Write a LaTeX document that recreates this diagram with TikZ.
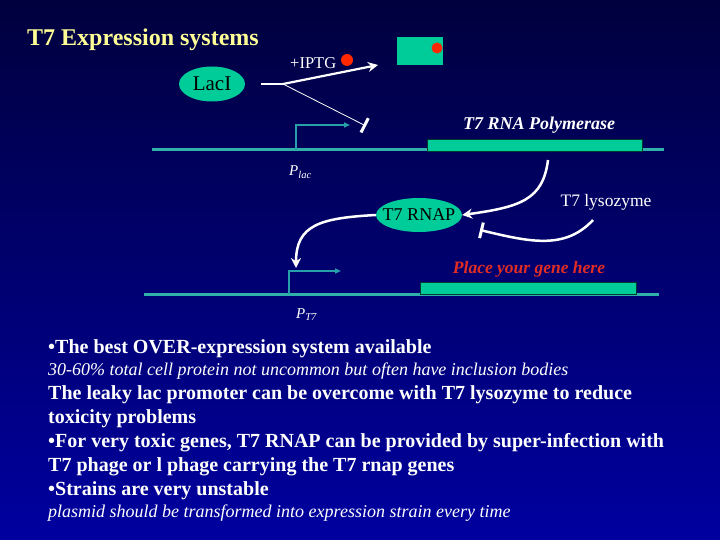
\documentclass[tikz,border=0pt]{standalone}
\usepackage{fontspec}
\setmainfont{Liberation Serif}
\usetikzlibrary{arrows.meta,shapes.geometric}
\definecolor{bgtop}{RGB}{0,0,62}
\definecolor{bgbot}{RGB}{0,0,160}
\definecolor{genegreen}{RGB}{0,204,153}
\definecolor{dnacol}{RGB}{48,176,170}
\definecolor{promcol}{RGB}{40,160,170}
\definecolor{titleyel}{RGB}{255,255,150}
\definecolor{dotred}{RGB}{255,40,0}
\definecolor{genered}{RGB}{225,45,35}
\tikzset{
  blob/.style={ellipse, fill=genegreen, inner sep=0pt, text=black},
  dnaline/.style={draw=dnacol, line width=3pt},
  genebox/.style={draw=black!70!genegreen, fill=genegreen, line width=0.8pt},
  prom/.style={draw=promcol, line width=1.5pt, -{Triangle[length=6pt,width=5pt]}},
  actarrow/.style={draw=white, line width=2.5pt, -{Stealth[length=10pt,width=10pt]}},
  inhib/.style={draw=white, line width=2.5pt, -{Bar[width=16pt,line width=3pt]}},
  reddot/.style={circle, fill=dotred, inner sep=0pt, minimum size=#1},
  wtxt/.style={text=white, inner sep=0pt},
  boldline/.style={text=white, inner sep=0pt, anchor=base west, font=\fontsize{20}{23}\selectfont\bfseries},
  itline/.style={text=white, inner sep=0pt, anchor=base west, font=\fontsize{18}{20}\selectfont\itshape},
}
\begin{document}
\begin{tikzpicture}[x=1pt,y=-1pt]
\shade[top color=bgtop, bottom color=bgbot] (0,0) rectangle (720,540);
\useasboundingbox (0,0) rectangle (720,540);

% title
\node[anchor=base west, inner sep=0pt, text=titleyel, font=\fontsize{24}{27}\selectfont\bfseries] (title) at (27,46) {T7 Expression systems};

% LacI
\node[blob, minimum width=66pt, minimum height=35pt, font=\fontsize{21}{24}\selectfont] (lacI) at (212,84) {LacI};
\coordinate (split) at (283,84);
\coordinate (iptgend) at (378,65);
\coordinate (placblock) at (366,126);
\draw[white, line width=1.2pt] (261,84) -- (split);
\draw[actarrow, line width=2.2pt] (split) -- (iptgend);
\draw[white, line width=0.8pt, -{Bar[width=16pt,line width=3pt]}] (split) -- (placblock);
\node[wtxt, anchor=base west, font=\fontsize{16.5}{19}\selectfont] (iptg) at (290,69) {+IPTG};
\node[reddot=12pt] (dot1) at (347,60) {};

% LacI-IPTG complex
\node[fill=genegreen, minimum width=46pt, minimum height=28pt, inner sep=0pt] (complex) at (420,51) {};
\node[reddot=11pt] (dot2) at (437,48) {};

% first DNA
\node[inner sep=0pt] (dna1l) at (151,150) {};
\node[inner sep=0pt] (dna1r) at (665,150) {};
\draw[dnaline] (dna1l) -- (dna1r);
\node[genebox, minimum width=215pt, minimum height=12pt, inner sep=0pt] (gene1) at (534.5,145) {};
\coordinate (plac0) at (296,150);
\coordinate (plac1) at (296,125);
\coordinate (plac2) at (350,125);
\draw[prom] (plac0) -- (plac1) -- (plac2);
\node[wtxt, anchor=base, font=\fontsize{18}{20}\selectfont\bfseries\itshape] (t7pol) at (539,130) {T7 RNA Polymerase};
\node[wtxt, anchor=base west, font=\fontsize{15}{17}\selectfont\itshape] (plac) at (289,176) {P\textsubscript{lac}};

% T7 RNAP
\node[blob, inner xsep=-6pt, minimum width=86pt, minimum height=34pt, font=\fontsize{18}{20}\selectfont] (rnap) at (419,215) {T7 RNAP};
\coordinate (polout) at (548,160);
\draw[actarrow] (polout) .. controls (543,200) and (520,207) .. (rnap.east);
\node[wtxt, anchor=base, font=\fontsize{17.5}{20}\selectfont] (lyso) at (606,207) {T7 lysozyme};
\coordinate (lysoout) at (593,220);
\coordinate (lysoblock) at (480,230);
\draw[inhib] (lysoout) .. controls (565,250) and (530,242) .. (lysoblock);
\coordinate (pt7target) at (296,268);
\draw[actarrow] (rnap.west) .. controls (320,218) and (296,225) .. (pt7target);

% second DNA
\node[genered, inner sep=0pt, anchor=base, font=\fontsize{17.5}{20}\selectfont\bfseries\itshape] (gene2lbl) at (529,273) {Place your gene here};
\node[inner sep=0pt] (dna2l) at (143,294) {};
\node[inner sep=0pt] (dna2r) at (660,294) {};
\draw[dnaline] (dna2l) -- (dna2r);
\node[genebox, minimum width=216pt, minimum height=12pt, inner sep=0pt] (gene2) at (528,288.5) {};
\coordinate (pt70) at (289,294);
\coordinate (pt72) at (289,271);
\coordinate (pt73) at (341,271);
\draw[prom] (pt70) -- (pt72) -- (pt73);
\node[wtxt, anchor=base west, font=\fontsize{15}{17}\selectfont\itshape] (pt7) at (296,318) {P\textsubscript{T7}};

% bullet text
\node[boldline] (b1) at (48,353) {•The best OVER-expression system available};
\node[itline] (b2) at (48,375) {30-60\% total cell protein not uncommon but often have inclusion bodies};
\node[boldline] (b3) at (48,399) {The leaky lac promoter can be overcome with T7 lysozyme to reduce};
\node[boldline] (b4) at (48,423) {toxicity problems};
\node[boldline] (b5) at (48,447) {•For very toxic genes, T7 RNAP can be provided by super-infection with};
\node[boldline] (b6) at (48,471) {T7 phage or l phage carrying the T7 rnap genes};
\node[boldline] (b7) at (48,495) {•Strains are very unstable};
\node[itline] (b8) at (48,517) {plasmid should be transformed into expression strain every time};
\end{tikzpicture}
\end{document}
